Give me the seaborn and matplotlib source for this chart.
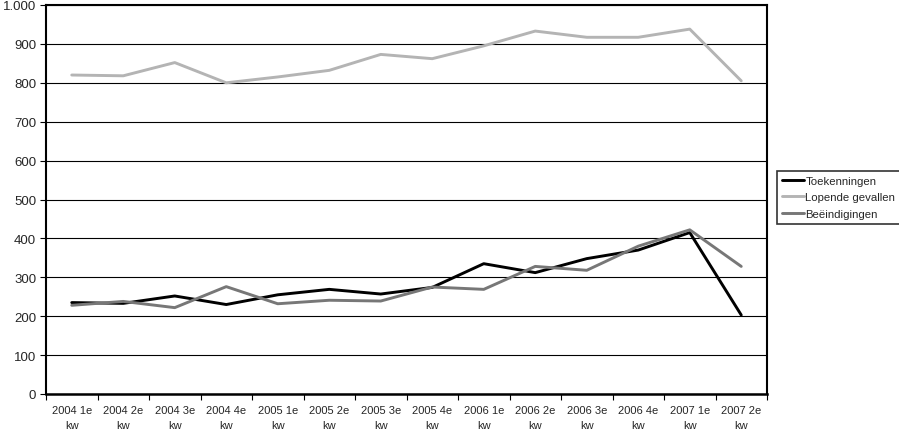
import matplotlib
matplotlib.use("Agg")
import matplotlib.pyplot as plt
import seaborn as sns
import pandas as pd
import numpy as np
from matplotlib.ticker import FixedLocator, FuncFormatter

categories = ["2004 1e\nkw", "2004 2e\nkw", "2004 3e\nkw", "2004 4e\nkw",
              "2005 1e\nkw", "2005 2e\nkw", "2005 3e\nkw", "2005 4e\nkw",
              "2006 1e\nkw", "2006 2e\nkw", "2006 3e\nkw", "2006 4e\nkw",
              "2007 1e\nkw", "2007 2e\nkw"]
toekenningen = [235, 233, 252, 230, 255, 269, 257, 274, 335, 312, 348, 370, 415, 203]
lopende = [820, 818, 852, 800, 815, 832, 873, 862, 895, 933, 917, 917, 938, 805]
beeindigingen = [228, 238, 222, 276, 232, 241, 239, 275, 269, 328, 318, 380, 422, 328]

series_names = ["Toekenningen", "Lopende gevallen", "Beëindigingen"]
colors = ["#000000", "#b4b4b4", "#777777"]

rows = []
for name, vals in zip(series_names, [toekenningen, lopende, beeindigingen]):
    for i, v in enumerate(vals):
        rows.append({"pos": i, "value": v, "series": name})
df = pd.DataFrame(rows)

sns.set_theme(style="white")
plt.rcParams['font.family'] = ['Liberation Sans', 'DejaVu Sans']

fig = plt.figure(figsize=(8.99, 4.31), dpi=100)
ax = fig.add_axes([46/899, 1-395/431, (767-46)/899, (395-6)/431])

sns.lineplot(data=df, x="pos", y="value", hue="series", hue_order=series_names,
             palette=colors, linewidth=2.1, ax=ax, legend=True)

ax.set_xlim(-0.5, len(categories)-0.5)
ax.set_ylim(0, 1000)
ax.set_yticks(np.arange(0, 1001, 100))
ax.yaxis.set_major_formatter(FuncFormatter(lambda v, p: f"{int(v):,}".replace(",", ".")))
ax.yaxis.grid(True, color="#000000", linewidth=0.8)
ax.set_axisbelow(True)

ax.set_xticks(range(len(categories)))
ax.set_xticklabels(categories, fontsize=8, linespacing=1.55)
ax.xaxis.set_minor_locator(FixedLocator(np.arange(-0.5, len(categories), 1.0)))
ax.tick_params(axis="x", which="major", length=0, pad=8)
ax.tick_params(axis="x", which="minor", length=4, width=0.8, color="black", direction="out", bottom=True)
ax.tick_params(axis="y", which="major", length=4, width=0.8, color="black", direction="out", left=True, labelsize=9.5, pad=3)

ax.set_xlabel("")
ax.set_ylabel("")
for side in ["left", "bottom", "top", "right"]:
    ax.spines[side].set_visible(True)
    ax.spines[side].set_color("black")
ax.spines["left"].set_linewidth(1.5)
ax.spines["bottom"].set_linewidth(1.8)
ax.spines["top"].set_linewidth(1.5)
ax.spines["right"].set_linewidth(1.5)

leg = ax.legend(loc="upper left", bbox_to_anchor=(777/899, 1-172/431),
                bbox_transform=fig.transFigure, fontsize=8.2, frameon=True,
                fancybox=False, handlelength=2.0, handletextpad=0.1,
                borderpad=0.4, borderaxespad=0, labelspacing=0.6)
leg.get_frame().set_edgecolor("black")
leg.get_frame().set_linewidth(1.2)
for line in leg.get_lines():
    line.set_linewidth(2.1)

fig.savefig("out.png", dpi=100, facecolor="white")
